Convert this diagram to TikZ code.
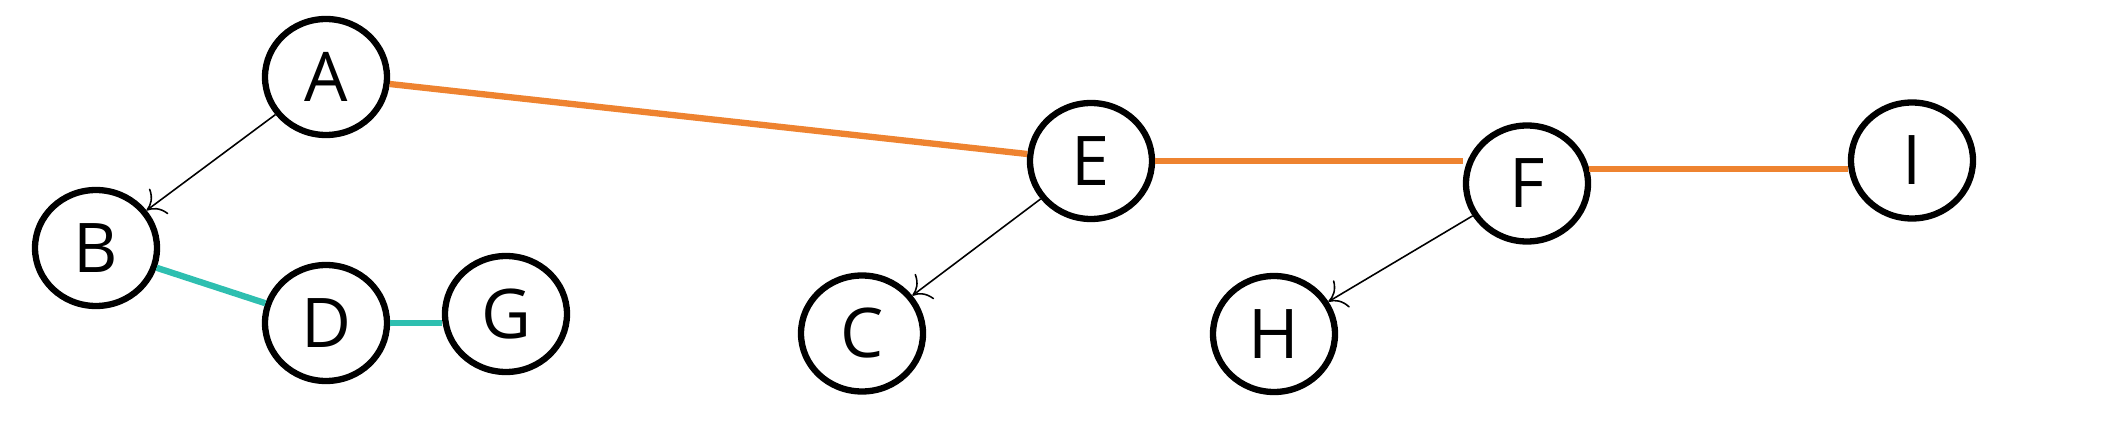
\documentclass[tikz,border=0pt]{standalone}
\usepackage{fontspec}
\setmainfont{Open Sans}
\usetikzlibrary{arrows.meta,shapes.geometric}

\definecolor{edgeorange}{RGB}{238,131,48}
\definecolor{edgeteal}{RGB}{46,191,176}

\tikzset{
  vertex/.style={ellipse,draw=black,line width=1.8pt,fill=white,
    minimum width=1.22cm,minimum height=1.16cm,inner sep=0pt,
    font=\fontsize{19.5}{19.5}\selectfont},
  arc/.style={-{To[length=4.5pt,width=9pt]},line width=0.45pt,black},
  orangeedge/.style={line width=1.8pt,color=edgeorange},
  tealedge/.style={line width=1.8pt,color=edgeteal}
}

\begin{document}
\begin{tikzpicture}
  \useasboundingbox (0,0) rectangle (21.24,4.27);

  \node [vertex] (A) at (3.26,3.5) {A};
  \node [vertex] (B) at (0.96,1.79) {B};
  \node [vertex] (D) at (3.26,1.04) {D};
  \node [vertex] (G) at (5.06,1.13) {G};
  \node [vertex] (E) at (10.91,2.66) {E};
  \node [vertex] (C) at (8.62,0.935) {C};
  \node [vertex] (F) at (15.27,2.435) {F};
  \node [vertex] (H) at (12.74,0.93) {H};
  \node [vertex] (I) at (19.12,2.665) {I};

  % directed edges
  \draw [arc] (A) -- (B);
  \draw [arc] (E) -- (C);
  \draw [arc] (F) -- (H);

  % coloured edges
  \draw [orangeedge] (A) -- (E);
  \draw [orangeedge] (E.east) -- (E.east -| F.west);
  \draw [orangeedge] (F.13) -- (F.13 -| I.west);
  \draw [tealedge] (B) -- (D);
  \draw [tealedge] (D.east) -- (D.east -| G.west);
\end{tikzpicture}
\end{document}
